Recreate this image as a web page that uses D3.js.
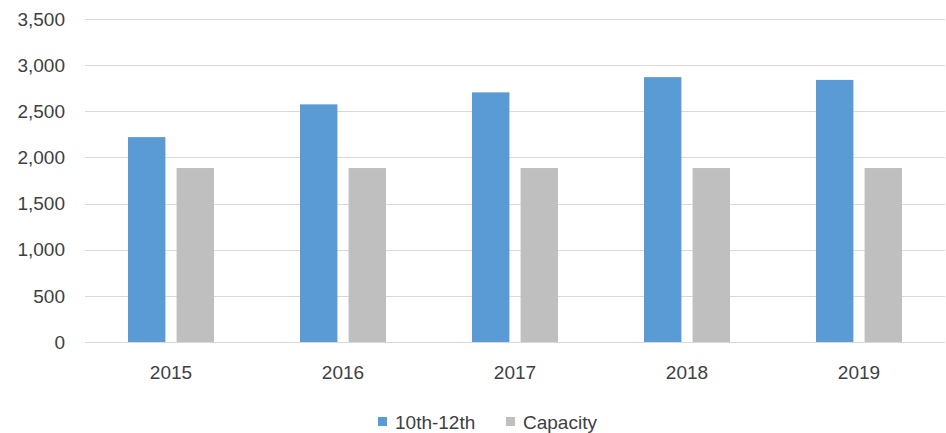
<!DOCTYPE html>
<html>
<head>
<meta charset="utf-8">
<script src="https://cdn.jsdelivr.net/npm/d3@7"></script>
<style>
  body { margin: 0; background: #fff; }
  svg text { font-family: "Liberation Sans", Arial, sans-serif; font-size: 19px; fill: #404040; }
</style>
</head>
<body>
<div id="chart"></div>
<script>
// chart data
const years = ['2015', '2016', '2017', '2018', '2019'];
const seriesNames = ['10th-12th', 'Capacity'];
const enrolment = [2220, 2575, 2705, 2870, 2840];
const capacity = [1885, 1885, 1885, 1885, 1885];
const yTicks = [0, 500, 1000, 1500, 2000, 2500, 3000, 3500];
const colors = ['#5b9bd5', '#bfbfbf'];

const width = 946, height = 433;
const margin = { top: 19, left: 85, right: 1, bottom: 91 };

const rows = years.map((y, i) => ({ year: y, values: [enrolment[i], capacity[i]] }));

const svg = d3.select('#chart')
  .append('svg')
    .attr('width', width)
    .attr('height', height);

// scales
const x0 = d3.scaleBand()
  .domain(years)
  .range([margin.left, width - margin.right]);

const groupW = x0.bandwidth() * 0.5;
const x1 = d3.scaleBand()
  .domain(seriesNames)
  .range([(x0.bandwidth() - groupW) / 2, (x0.bandwidth() + groupW) / 2])
  .paddingInner(0.23);

const y = d3.scaleLinear()
  .domain([0, 3500])
  .range([height - margin.bottom, margin.top]);

// gridlines
svg.append('g')
  .selectAll('line')
  .data(yTicks)
  .join('line')
    .attr('x1', margin.left)
    .attr('x2', width - margin.right)
    .attr('y1', d => Math.round(y(d)) + 0.5)
    .attr('y2', d => Math.round(y(d)) + 0.5)
    .attr('stroke', '#d9d9d9')
    .attr('stroke-width', 1);

// y axis labels
svg.append('g')
  .selectAll('text')
  .data(yTicks)
  .join('text')
    .attr('x', 65)
    .attr('y', d => y(d))
    .attr('dy', '0.35em')
    .attr('text-anchor', 'end')
    .text(d => d3.format(',')(d));

// bars
const groups = svg.append('g')
  .selectAll('g')
  .data(rows)
  .join('g')
    .attr('transform', d => 'translate(' + x0(d.year) + ',0)');

groups.selectAll('rect')
  .data(d => d.values.map((v, i) => ({ key: seriesNames[i], value: v, idx: i })))
  .join('rect')
    .attr('x', d => x1(d.key))
    .attr('width', x1.bandwidth())
    .attr('y', d => y(d.value))
    .attr('height', d => y(0) - y(d.value))
    .attr('fill', d => colors[d.idx]);

// x axis line on top of bars
svg.append('line')
  .attr('x1', margin.left)
  .attr('x2', width - margin.right)
  .attr('y1', Math.round(y(0)) + 0.5)
  .attr('y2', Math.round(y(0)) + 0.5)
  .attr('stroke', '#d9d9d9');

// x labels
svg.append('g')
  .selectAll('text')
  .data(years)
  .join('text')
    .attr('x', d => x0(d) + x0.bandwidth() / 2)
    .attr('y', y(0) + 37)
    .attr('text-anchor', 'middle')
    .text(d => d);

// legend
const legendX = [378, 506];
const legend = svg.append('g')
  .selectAll('g')
  .data(seriesNames)
  .join('g')
    .attr('transform', (d, i) => 'translate(' + legendX[i] + ',417)');

legend.append('rect')
  .attr('width', 9)
  .attr('height', 9)
  .attr('fill', (d, i) => colors[i]);

legend.append('text')
  .attr('x', 17)
  .attr('y', 12)
  .text(d => d);
</script>
</body>
</html>
